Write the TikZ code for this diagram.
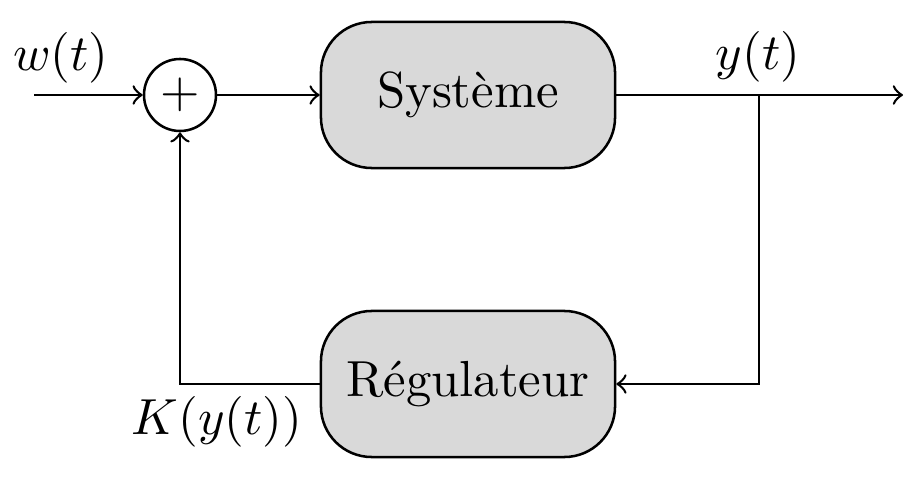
\documentclass[tikz,border=0pt]{standalone}
\begin{document}
\begin{tikzpicture}[x=0.1972pt,y=-0.1972pt, line width=0.5pt,
  block/.style={draw, fill=gray!30, rounded corners=10pt, minimum width=58pt, minimum height=28.8pt, inner sep=0pt},
  sumnode/.style={draw, circle, minimum size=14.2pt, inner sep=0pt},
  lbl/.style={inner sep=0pt}]
\useasboundingbox (0,0) rectangle (920,481);
\node[sumnode] (sum) at (180,95) {$+$};
\node[block] (sys) at (468,95) {Système};
\node[block] (reg) at (468,384) {Régulateur};
\coordinate (in) at (34,95);
\coordinate (br) at (759,95);
\coordinate (out) at (903,95);
\coordinate (c1) at (759,384);
\coordinate (c2) at (180,384);
\draw[->] (in) -- (sum);
\draw[->] (sum) -- (sys);
\draw[->] (sys) -- (out);
\draw[->] (br) -- (c1) -- (reg);
\draw[->] (reg) -- (c2) -- (sum);
\node[lbl] (wl) at (61,58) {$w(t)$};
\node[lbl] (yl) at (758,57) {$y(t)$};
\node[lbl] (kl) at (217,422) {$K(y(t))$};
\end{tikzpicture}
\end{document}
